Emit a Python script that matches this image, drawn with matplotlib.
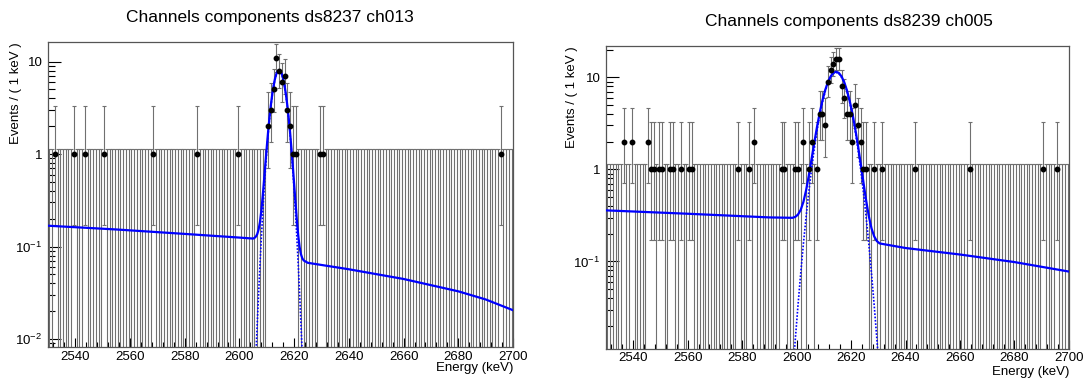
import numpy as np
import matplotlib
matplotlib.use("Agg")
import matplotlib.pyplot as plt
from matplotlib.ticker import LogLocator, FuncFormatter, MultipleLocator, NullFormatter

plt.rcParams['font.family'] = ['Liberation Sans', 'DejaVu Sans']
plt.rcParams['mathtext.fontset'] = 'custom'
plt.rcParams['mathtext.rm'] = 'Liberation Sans'
plt.rcParams['mathtext.it'] = 'Liberation Sans'

# binning: 1 keV bins from 2530 to 2700
e_min, e_max = 2530, 2700

# Poisson 68% intervals used by RooFit, index = counts
poisson_lo = [0.0, 0.173, 0.708, 1.367, 2.086, 2.840, 3.620, 4.419, 5.232, 6.055,
              6.890, 7.733, 8.585, 9.443, 10.30, 11.17, 12.04]
poisson_hi = [1.148, 3.300, 4.638, 5.918, 7.163, 8.382, 9.584, 10.77, 11.95, 13.12,
              14.27, 15.42, 16.56, 17.70, 18.83, 19.96, 21.08]

# ---- ds8237 ch013 ----
left_bins = [2532.5, 2539.5, 2543.5, 2550.5, 2568.5, 2584.5, 2599.5, 2610.5, 2611.5,
             2612.5, 2613.5, 2614.5, 2615.5, 2616.5, 2617.5, 2618.5, 2619.5, 2620.5,
             2629.5, 2630.5, 2695.5]
left_counts = [1, 1, 1, 1, 1, 1, 1, 2, 3, 5, 11, 8, 6, 7, 3, 2, 1, 1, 1, 1, 1]

left_fit_e = [2530, 2555, 2580, 2600, 2605] + list(np.arange(2605.5, 2623.75, 0.5)) + \
             [2625, 2640, 2660, 2680, 2690, 2700]
left_fit = [0.168, 0.153, 0.137, 0.125, 0.122,
            0.124, 0.128, 0.136, 0.153, 0.184, 0.244, 0.350, 0.524, 0.799, 1.20,
            1.77, 2.51, 3.41, 4.44, 5.51, 6.53, 7.36, 7.90, 8.10, 7.89,
            7.33, 6.48, 5.46, 4.39, 3.36, 2.46, 1.72, 1.15, 0.747, 0.472,
            0.298, 0.192, 0.131, 0.0988, 0.0824, 0.0744, 0.0707,
            0.0667, 0.0568, 0.0446, 0.0328, 0.0268, 0.0205]
left_peak_e = list(np.arange(2605.5, 2623.75, 0.5))
left_peak = [0.0027, 0.0064, 0.0144, 0.0308, 0.0632, 0.123, 0.229, 0.403, 0.678, 1.08,
             1.65, 2.39, 3.29, 4.32, 5.39, 6.41, 7.25, 7.80, 8.0, 7.80, 7.25, 6.41,
             5.39, 4.32, 3.29, 2.39, 1.65, 1.08, 0.678, 0.403, 0.229, 0.123, 0.0632,
             0.0308, 0.0144, 0.0064, 0.0027]

# ---- ds8239 ch005 ----
right_bins = [2536.5, 2539.5, 2545.5, 2546.5, 2547.5, 2549.5, 2550.5, 2553.5, 2554.5,
              2557.5, 2560.5, 2561.5, 2578.5, 2582.5, 2584.5, 2594.5, 2595.5, 2599.5,
              2600.5, 2602.5, 2604.5, 2605.5, 2607.5, 2608.5, 2609.5, 2610.5, 2611.5,
              2612.5, 2613.5, 2614.5, 2615.5, 2616.5, 2617.5, 2618.5, 2619.5, 2620.5,
              2621.5, 2622.5, 2623.5, 2624.5, 2625.5, 2628.5, 2631.5, 2643.5, 2663.5,
              2690.5, 2695.5]
right_counts = [2, 2, 2, 1, 1, 1, 1, 1, 1, 1, 1, 1, 1, 1, 2, 1, 1, 1, 1, 2, 1, 2, 1, 4, 4,
                3, 9, 12, 14, 16, 16, 8, 6, 4, 4, 2, 5, 3, 2, 1, 1, 1, 1, 1, 1, 1, 1]

right_fit_e = [2530, 2560, 2590] + list(np.arange(2598.5, 2631, 1.0)) + [2640, 2660, 2680, 2700]
right_fit = [0.359, 0.330, 0.301,
             0.298, 0.305, 0.323, 0.363, 0.444, 0.596, 0.863, 1.30, 1.96, 2.91, 4.14,
             5.64, 7.28, 8.90, 10.27, 11.20, 11.52, 11.18, 10.23, 8.84, 7.20, 5.54,
             4.04, 2.79, 1.85, 1.175, 0.736, 0.466, 0.312, 0.229, 0.187, 0.166, 0.157,
             0.140, 0.119, 0.0985, 0.0777]
right_peak_e = list(np.arange(2598.5, 2631, 1.0))
right_peak = [0.0056, 0.014, 0.0332, 0.0741, 0.156, 0.309, 0.578, 1.016, 1.684, 2.63,
              3.87, 5.37, 7.02, 8.65, 10.03, 10.97, 11.3, 10.97, 10.03, 8.65, 7.02,
              5.37, 3.87, 2.63, 1.684, 1.016, 0.578, 0.309, 0.156, 0.0741, 0.0332,
              0.014, 0.0056]

panels = [
    dict(title="Channels components ds8237 ch013", bins=left_bins, counts=left_counts,
         fit_e=left_fit_e, fit=left_fit, peak_e=left_peak_e, peak=left_peak,
         rect=[0.0442, 0.082, 0.4286, 0.807], ylim=(0.0082, 16.3),
         title_xy=(0.249, 0.955), ylab_x=16 / 1085, xlab_y=10 / 378, xpad=3),
    dict(title="Channels components ds8239 ch005", bins=right_bins, counts=right_counts,
         fit_e=right_fit_e, fit=right_fit, peak_e=right_peak_e, peak=right_peak,
         rect=[0.5585, 0.0767, 0.4267, 0.8016], ylim=(0.0112, 21.9),
         title_xy=(0.782, 0.942), ylab_x=572 / 1085, xlab_y=6.5 / 378, xpad=2),
]


def ylab(v, pos):
    if abs(v - 10) < 1e-6:
        return "10"
    if abs(v - 1) < 1e-6:
        return "1"
    return r"$10^{%d}$" % int(round(np.log10(v)))


fig = plt.figure(figsize=(10.85, 3.78), dpi=100)

for p in panels:
    ax = fig.add_axes(p['rect'])
    centers = np.arange(e_min, e_max) + 0.5
    n = np.zeros(len(centers), dtype=int)
    for b, c in zip(p['bins'], p['counts']):
        n[int(b - e_min)] = c
    lo = np.array([poisson_lo[k] for k in n])
    hi = np.array([poisson_hi[k] for k in n])
    lo_draw = np.where(lo > 0, lo, 1e-6)

    bar_col = '#707070'
    ax.vlines(centers, lo_draw, hi, colors=bar_col, lw=0.8, zorder=2)
    ax.plot(centers, hi, ls='none', marker='_', ms=3.4, mew=0.8, color=bar_col, zorder=2)
    has = lo > 0
    ax.plot(centers[has], lo[has], ls='none', marker='_', ms=3.4, mew=0.8, color=bar_col, zorder=2)
    ax.plot(centers[n > 0], n[n > 0], ls='none', marker='o', ms=3.2, color='black', zorder=4)

    ax.plot(p['fit_e'], p['fit'], color='#0000ff', lw=1.6, zorder=3)
    ax.plot(p['peak_e'], p['peak'], color='#0000ff', lw=1.2, ls=(0, (1, 1)), zorder=3)

    ax.set_yscale('log')
    ax.set_xlim(e_min, e_max)
    ax.set_ylim(*p['ylim'])
    ax.yaxis.set_major_locator(LogLocator(base=10))
    ax.yaxis.set_minor_locator(LogLocator(base=10, subs=np.arange(2, 10)))
    ax.yaxis.set_major_formatter(FuncFormatter(ylab))
    ax.yaxis.set_minor_formatter(NullFormatter())
    ax.xaxis.set_major_locator(MultipleLocator(20))
    ax.xaxis.set_minor_locator(MultipleLocator(4))

    ax.tick_params(axis='both', which='both', direction='in', top=False, right=False,
                   labelsize=9.5, colors='black')
    ax.tick_params(axis='y', which='major', length=9.5, width=0.8, pad=4)
    ax.tick_params(axis='y', which='minor', length=5, width=0.8)
    ax.tick_params(axis='x', which='major', length=6.5, width=0.8, pad=p['xpad'])
    ax.tick_params(axis='x', which='minor', length=3.5, width=0.8)
    for s in ax.spines.values():
        s.set_color('#555555')
        s.set_linewidth(0.9)

    r = p['rect']
    fig.text(p['ylab_x'], r[1] + r[3], "Events / ( 1 keV )", fontsize=9.5,
             rotation=90, ha='center', va='top')
    fig.text(r[0] + r[2], p['xlab_y'], "Energy (keV)", fontsize=9.5,
             ha='right', va='center')
    fig.text(p['title_xy'][0], p['title_xy'][1], p['title'], fontsize=12.5,
             ha='center', va='center')

fig.savefig("out.png", dpi=100)
